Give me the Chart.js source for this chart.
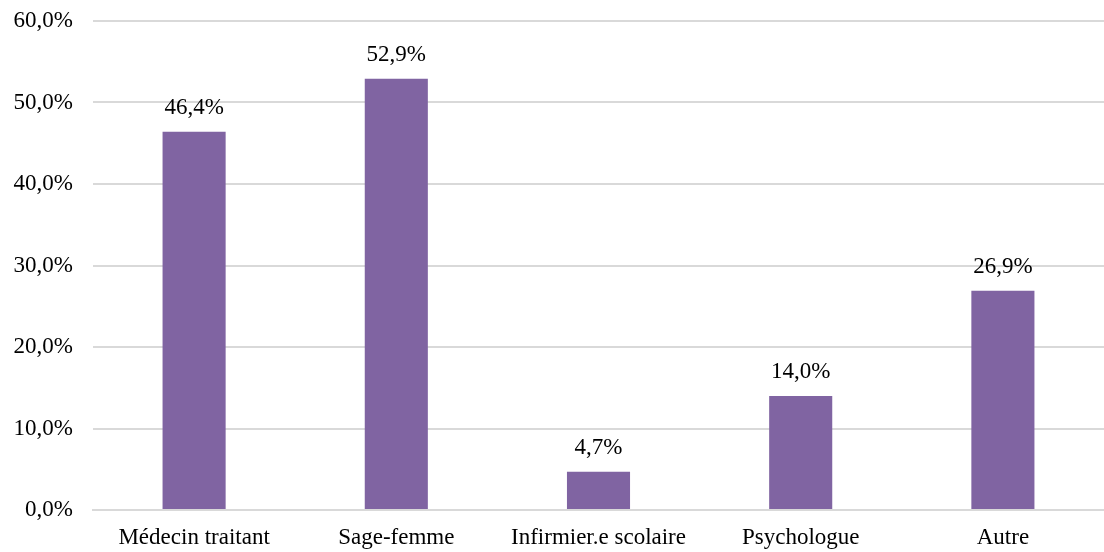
<!DOCTYPE html>
<html>
<head>
<meta charset="utf-8">
<script src="https://cdn.jsdelivr.net/npm/chart.js@4"></script>
<style>
  html, body { margin: 0; padding: 0; background: #fff; }
  #wrap { width: 1104px; height: 552px; }
</style>
</head>
<body>
<div id="wrap"><canvas id="myChart" width="1104" height="552"></canvas></div>
<script>
const categories = ["Médecin traitant", "Sage-femme", "Infirmier.e scolaire", "Psychologue", "Autre"];
const values = [46.4, 52.9, 4.7, 14.0, 26.9];
const yTicks = [0, 10, 20, 30, 40, 50, 60];

const fmt = v => v.toFixed(1).replace(".", ",") + "%";
const font = "'Liberation Serif', 'Times New Roman', serif";
const fontSize = 23;

// draw value labels above bars
const valueLabels = {
  id: "valueLabels",
  afterDatasetsDraw(chart) {
    const ctx = chart.ctx;
    const meta = chart.getDatasetMeta(0);
    ctx.save();
    ctx.font = fontSize + "px " + font;
    ctx.fillStyle = "#000";
    ctx.textAlign = "center";
    ctx.textBaseline = "alphabetic";
    meta.data.forEach((bar, i) => {
      ctx.fillText(fmt(values[i]), bar.x, bar.y - 18);
    });
    ctx.restore();
  }
};

const ctx = document.getElementById("myChart").getContext("2d");
new Chart(ctx, {
  type: "bar",
  data: {
    labels: categories,
    datasets: [{
      data: values,
      backgroundColor: "#8064a2",
      barPercentage: 0.312,
      categoryPercentage: 1
    }]
  },
  options: {
    responsive: false,
    animation: false,
    layout: { padding: 0 },
    plugins: { legend: { display: false }, tooltip: { enabled: false } },
    scales: {
      x: {
        afterFit: axis => { axis.height = 42; },
        grid: { display: false, drawTicks: false },
        border: { color: "#d9d9d9", width: 2 },
        ticks: { color: "#000", font: { family: font, size: fontSize }, padding: 14, maxRotation: 0 }
      },
      y: {
        min: 0,
        max: 60,
        afterBuildTicks: axis => { axis.ticks = yTicks.map(v => ({ value: v })); },
        afterFit: axis => {
          axis.width = 93;
          axis.paddingTop = 21;
          axis.paddingBottom = 0;
        },
        grid: { color: "#d9d9d9", lineWidth: 2, drawTicks: false },
        border: { display: false },
        ticks: { color: "#000", font: { family: font, size: fontSize }, padding: 20, callback: v => fmt(v) }
      }
    }
  },
  plugins: [valueLabels]
});
</script>
</body>
</html>
